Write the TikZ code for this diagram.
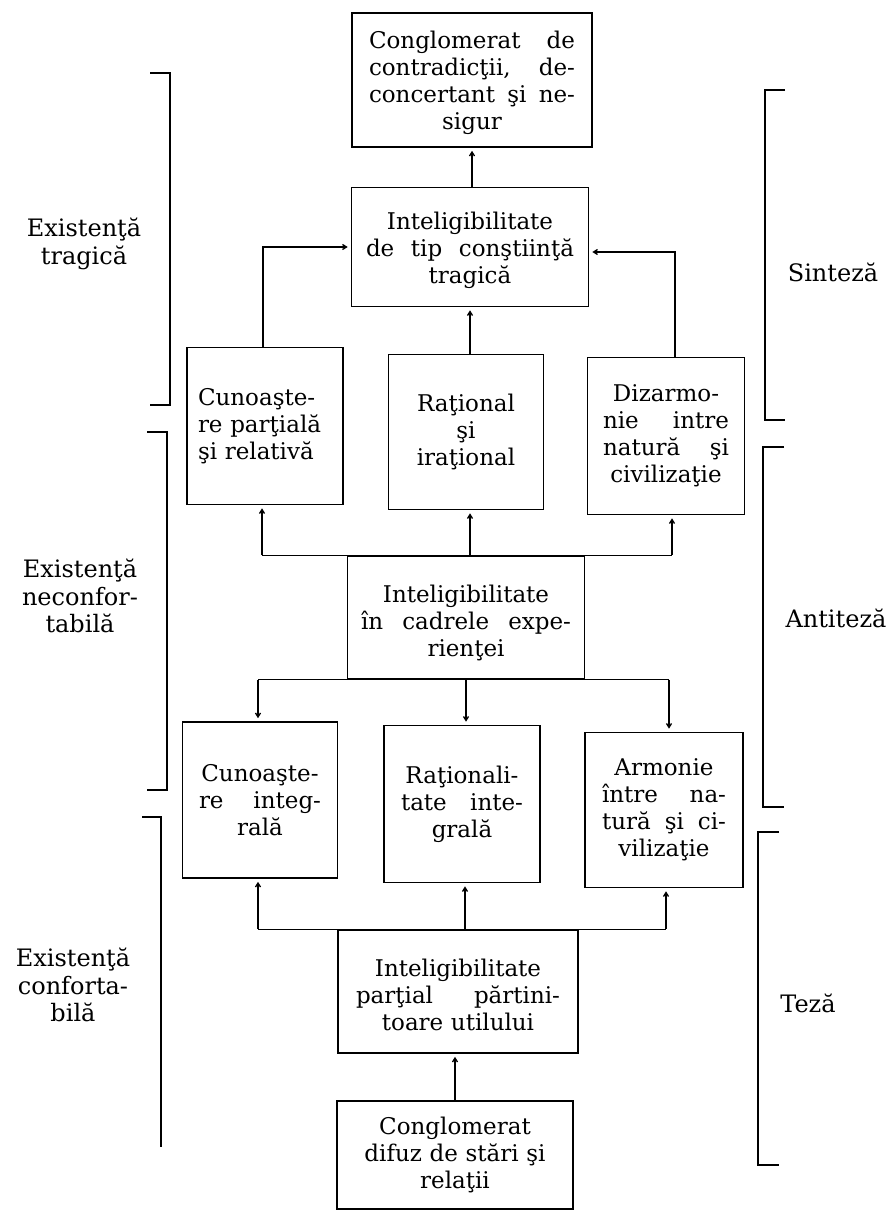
\documentclass[tikz,border=0pt]{standalone}
\usepackage{fontspec}
\setmainfont{DejaVu Serif}
\usetikzlibrary{arrows.meta,calc}
\setlength\parindent{0pt}
\newcommand\fs{\fontsize{23}{27}\selectfont}
\newcommand\fsl{\fontsize{24}{27.5}\selectfont}
\newcommand\jl[2]{\makebox[#1pt]{#2}}
\tikzset{
  box/.style={draw, line width=1.6pt, inner sep=0pt, align=center, font=\fs},
  lab/.style={inner sep=0pt, align=center, font=\fsl},
  conn/.style={line width=1.3pt},
  arr/.style={conn, -{Straight Barb[length=4pt,width=5pt]}, shorten >=3pt},
  brk/.style={line width=1.6pt}
}
\begin{document}
\begin{tikzpicture}[x=1pt,y=-1pt]
\useasboundingbox (0,0) rectangle (888,1212);
% boxes
\node[box, minimum width=240pt, minimum height=134pt, text width=212pt] (C1) at (472,80)
  {\rule{0pt}{24pt}\jl{206}{Conglomerat\hfill de}\\ \jl{206}{contradicţii,\hfill de-}\\ \jl{206}{concertant\hfill şi\hfill ne-}\\ sigur};
\node[box, minimum width=237pt, minimum height=119pt, text width=212pt] (I1) at (470,247)
  {\rule{0pt}{24pt}Inteligibilitate\\ \jl{208}{de\hfill tip\hfill conştiinţă}\\ tragică};
\node[box, minimum width=156pt, minimum height=157pt, text width=134pt, align=left] (R1a) at (265,426)
  {Cunoaşte-\\ re parţială\\ şi relativă};
\node[box, minimum width=155pt, minimum height=155pt, text width=134pt] (R1b) at (466,432)
  {Raţional\\ şi\\ iraţional};
\node[box, minimum width=157pt, minimum height=157pt, text width=134pt] (R1c) at (666,436)
  {Dizarmo-\\ \jl{126}{nie\hfill intre}\\ \jl{126}{natură\hfill şi}\\ civilizaţie};
\node[box, minimum width=237pt, minimum height=123pt, text width=214pt] (I2) at (466,617.5)
  {\rule{0pt}{28pt}Inteligibilitate\\ \jl{210}{în\hfill cadrele\hfill expe-}\\ rienţei};
\node[box, minimum width=155pt, minimum height=156pt, text width=134pt] (R2a) at (260,800)
  {Cunoaşte-\\ \jl{122}{re\hfill integ-}\\ rală};
\node[box, minimum width=156pt, minimum height=157pt, text width=134pt] (R2b) at (462,804)
  {Raţionali-\\ \jl{122}{tate\hfill inte-}\\ grală};
\node[box, minimum width=158pt, minimum height=155pt, text width=134pt] (R2c) at (664,810)
  {Armonie\\ \jl{124}{între\hfill na-}\\ \jl{124}{tură\hfill şi\hfill ci-}\\ vilizaţie};
\node[box, minimum width=240pt, minimum height=123pt, text width=212pt] (I3) at (458,991.5)
  {\rule{0pt}{24pt}Inteligibilitate\\ \jl{204}{parţial\hfill părtini-}\\ toare utilului};
\node[box, minimum width=236pt, minimum height=108pt, text width=212pt] (B) at (455,1155)
  {Conglomerat\\ difuz de stări şi\\ relaţii};
% connectors top part
\draw[arr] (I1.north -| C1.south) -- (C1.south);
\draw[arr] (R1b.north -| I1.south) -- (I1.south);
\draw[arr] ($(R1a.north)+(-2,0)$) |- (I1.west);
\draw[arr] ($(R1c.north)+(9,0)$) |- ($(I1.east)+(0,5)$);
% branch above I2
\coordinate (b1a) at ($(R1a.south |- I2.north)+(-3,0)$);
\coordinate (b1b) at ($(R1b.south |- I2.north)+(4,0)$);
\coordinate (b1c) at ($(R1c.south |- I2.north)+(6,0)$);
\draw[conn] (b1a) -- (b1c);
\draw[arr] (b1a) -- (b1a |- R1a.south);
\draw[arr] (b1b) -- (b1b |- R1b.south);
\draw[arr] (b1c) -- (b1c |- R1c.south);
% branch below I2
\coordinate (b2a) at ($(R2a.north |- I2.south)+(-2,0)$);
\coordinate (b2b) at ($(R2b.north |- I2.south)+(4,0)$);
\coordinate (b2c) at ($(R2c.north |- I2.south)+(5,0)$);
\draw[conn] (b2a) -- (b2c);
\draw[arr] (b2a) -- (b2a |- R2a.north);
\draw[arr] (b2b) -- (b2b |- R2b.north);
\draw[arr] (b2c) -- (b2c |- R2c.north);
% branch above I3
\coordinate (b3a) at ($(R2a.south |- I3.north)+(-2,0)$);
\coordinate (b3b) at ($(R2b.south |- I3.north)+(3,0)$);
\coordinate (b3c) at ($(R2c.south |- I3.north)+(2,0)$);
\draw[conn] (b3a) -- (b3c);
\draw[arr] (b3a) -- (b3a |- R2a.south);
\draw[arr] (b3b) -- (b3b |- R2b.south);
\draw[arr] (b3c) -- (b3c |- R2c.south);
% bottom
\draw[arr] (B.north) -- (B.north |- I3.south);
% left brackets
\draw[brk] (150,73) -- (170,73) -- (170,405) -- (150,405);
\draw[brk] (147,432) -- (167,432) -- (167,790) -- (147,790);
\draw[brk] (142,817) -- (161,817) -- (161,1147);
% right brackets
\draw[brk] (785,90) -- (765,90) -- (765,420) -- (785,420);
\draw[brk] (784,447) -- (763,447) -- (763,807) -- (784,807);
\draw[brk] (779,832) -- (758,832) -- (758,1165) -- (779,1165);
% labels
\node[lab] (L1) at (84,244) {Existenţă\\ tragică};
\node[lab] (L2) at (80,596) {Existenţă\\ neconfor-\\ tabilă};
\node[lab] (L3) at (73,985) {Existenţă\\ conforta-\\ bilă};
\node[lab] (S1) at (833,272) {Sinteză};
\node[lab] (S2) at (836,618) {Antiteză};
\node[lab] (S3) at (808,1003) {Teză};
\end{tikzpicture}
\end{document}
